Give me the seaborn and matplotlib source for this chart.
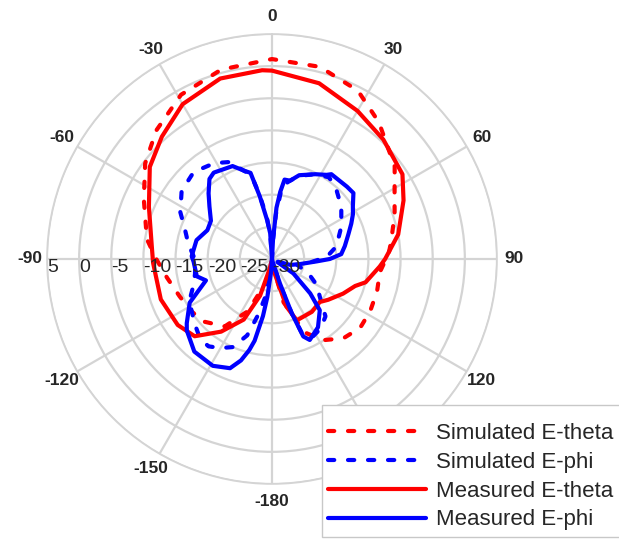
import numpy as np
import matplotlib.pyplot as plt
import seaborn as sns

sns.set_theme(style="white")
plt.rcParams['font.family'] = ['Liberation Sans', 'DejaVu Sans']

# angle (deg, clockwise from top) and gain (dB)
sim_theta_ang = [-180, -175, -165, -155, -145, -132, -122, -112, -100, -90, -81, -65, -53, -42,
                 -29, -15, 0, 14, 27, 38, 53, 63, 70, 75, 82, 87, 97, 107, 118, 128, 138,
                 148, 156, 165, 175, 180]
sim_theta_db = [-30, -29.5, -26, -21, -17.2, -15.5, -15.0, -14.5, -13.4, -12.0, -10.3, -8.0,
                -5.3, -3.1, -0.8, 0.5, 1.1, 0.8, -0.6, -3.0, -6.1, -8.6, -9.7, -10.5, -11.3,
                -11.8, -13.1, -12.9, -12.7, -12.6, -13.4, -15.1, -17.5, -23, -29, -30]

sim_phi_ang = [-180, -175, -170, -166, -162, -156, -150, -144, -138, -130, -122, -115, -108,
               -101, -95, -88, -80, -70, -63, -53, -42, -31, -24, -18, -14, -11, -7, -4, 0,
               3, 5, 8, 13, 18, 27, 35, 43, 53, 65, 79, 88, 95, 103, 111, 120, 127, 132, 137,
               145, 153, 158, 160, 163, 168, 180]
sim_phi_db = [-30, -28, -24, -21, -17.5, -15, -14, -13.2, -13.3, -14.3, -15.2, -16.0, -17.2,
              -17.8, -18.0, -17.8, -16.8, -15.5, -14, -12.4, -11.8, -12.6, -13.5, -15.5, -16.5,
              -19.8, -23.5, -26.5, -30, -27, -23, -18.5, -17.5, -16.4, -15.2, -14.5, -15.3,
              -16.5, -18.1, -19.8, -21.5, -24, -26, -24, -22, -20.8, -19.6, -17.8, -16.8,
              -16.3, -17.5, -21, -26, -30, -30]

meas_theta_ang = [-180, -170, -166, -162, -155, -145, -135, -125, -110, -92, -84, -67, -53,
                  -42, -30, -16, -3, 0, 15, 30, 43, 57, 66, 79, 90, 94, 104, 108, 116, 126,
                  132, 143, 158, 163, 173, 180]
meas_theta_db = [-29.5, -29.5, -28.3, -24.0, -19.6, -16.2, -13.0, -12.1, -11.6, -11.5, -11.2,
                 -9.2, -6.2, -4.4, -2.2, -0.8, -0.6, -0.7, -1.7, -3.4, -4.6, -5.8, -7.6, -10.0,
                 -12.4, -13.2, -15.0, -16.4, -17.7, -19.2, -20.0, -19.7, -19.7, -22.2, -28.3,
                 -29.5]

meas_phi_ang = [-180, -176, -173, -171, -168, -166, -163, -159, -151, -140, -130, -127, -118,
                -108, -103, -92, -88, -76, -66, -58, -50, -44, -38, -34, -23, -18, -14, -11,
                -7, -4, 0, 3, 5, 7, 9, 13, 18, 20, 27, 33, 35, 46, 51, 57, 61, 66, 72, 80, 86,
                90, 93, 100, 108, 115, 120, 124, 132, 137, 146, 155, 158, 160, 162, 166, 172,
                180]
meas_phi_db = [-30, -28, -24, -21, -17, -15.4, -13.5, -11.8, -11.0, -11.2, -12.7, -13.4, -15.5,
               -19.2, -18.0, -17.8, -17.5, -17.9, -19, -18.8, -17.3, -15.8, -14.2, -13.8, -14.3,
               -15.5, -16.2, -20.1, -24, -26, -30, -27, -22, -19.5, -17.5, -17.5, -16.3, -16.1,
               -15.2, -14.4, -13.9, -13.8, -13.7, -15.0, -15.6, -16.5, -17.5, -18.5, -19.2,
               -21, -23, -25.5, -27, -29, -29, -26, -22, -19.1, -17.2, -16.1, -17, -21, -26,
               -29.5, -30, -30]

theta_ticks = [0, 30, 60, 90, 120, 150, 180, 210, 240, 270, 300, 330]
theta_labels = ['0', '30', '60', '90', '120', '150', '-180', '-150', '-120', '-90', '-60', '-30']
r_ticks = [-30, -25, -20, -15, -10, -5, 0, 5]

fig = plt.figure(figsize=(6.19, 5.41), dpi=100)
ax = fig.add_axes([0.0759, 0.1054, 0.727, 0.8318], projection='polar')
ax.set_theta_zero_location('N')
ax.set_theta_direction(-1)

dotted = (0, (1.5, 3.3))
series = [
    ('Simulated E-theta', sim_theta_ang, sim_theta_db, '#ff0000', dotted),
    ('Simulated E-phi', sim_phi_ang, sim_phi_db, '#0000ff', dotted),
    ('Measured E-theta', meas_theta_ang, meas_theta_db, '#ff0000', '-'),
    ('Measured E-phi', meas_phi_ang, meas_phi_db, '#0000ff', '-'),
]
for label, ang, db, color, ls in series:
    sns.lineplot(x=np.deg2rad(ang), y=db, ax=ax, color=color, linewidth=3, linestyle=ls,
                 sort=False, estimator=None, label=label,
                 dash_capstyle='round', solid_capstyle='round')

ax.set_xlabel('')
ax.set_ylabel('')
ax.set_ylim(-30, 5)
ax.set_yticks(r_ticks)
ax.set_yticklabels([])
ax.set_thetagrids(theta_ticks, theta_labels, fontsize=12.5, fontweight='bold')
ax.tick_params(axis='x', pad=-0.5)
ax.grid(True, color='#d4d4d4', linewidth=1.6)
ax.spines['polar'].set_color('#d4d4d4')
ax.spines['polar'].set_linewidth(1.2)

# radial scale labels along the -90 spoke
for r in r_ticks:
    ax.text(np.deg2rad(-90), r, str(r), ha='left', va='top', fontsize=14)

handles, labels = ax.get_legend_handles_labels()
ax.get_legend().remove()
leg = fig.legend(handles, labels, loc='upper left', bbox_to_anchor=(322 / 619, 1 - 405 / 541),
                 fontsize=16, frameon=True, fancybox=False, framealpha=1,
                 edgecolor='#c8c8c8', handlelength=4.4, handletextpad=0.45,
                 labelspacing=0.35, borderpad=0.28, borderaxespad=0,
                 title=' ', title_fontsize=3)
leg.get_frame().set_linewidth(1.0)

fig.savefig('out.png', dpi=100)
